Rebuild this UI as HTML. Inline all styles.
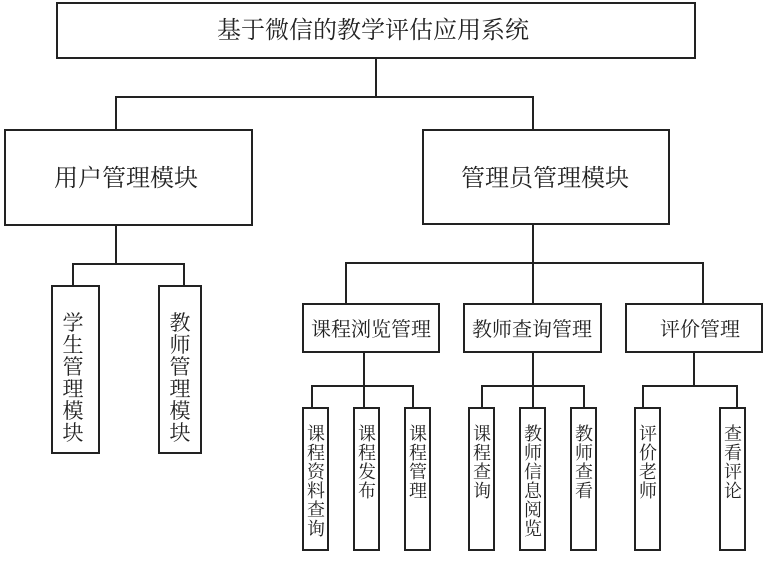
<!DOCTYPE html>
<html><head><meta charset="utf-8"><style>
body{margin:0;background:#fff;}
svg text{font-family:"Liberation Serif","Noto Serif CJK SC","Noto Sans CJK SC",serif;fill:#222;}
</style></head><body>
<svg width="767" height="556" viewBox="0 0 767 556" xmlns="http://www.w3.org/2000/svg">
<g fill="none" stroke="#222" stroke-width="2">
<rect x="57" y="3" width="638" height="55"/>
<rect x="5" y="130" width="247" height="95"/>
<rect x="423" y="130" width="246" height="94"/>
<rect x="52" y="286" width="47" height="167"/>
<rect x="159" y="286" width="42" height="167"/>
<rect x="303" y="304" width="136" height="48"/>
<rect x="464" y="304" width="137" height="48"/>
<rect x="626" y="304" width="136" height="48"/>
<rect x="303" y="408" width="25" height="142"/>
<rect x="354" y="408" width="25" height="142"/>
<rect x="405" y="408" width="25" height="142"/>
<rect x="469" y="408" width="25" height="142"/>
<rect x="520" y="408" width="25" height="142"/>
<rect x="571" y="408" width="25" height="142"/>
<rect x="635" y="408" width="25" height="142"/>
<rect x="720" y="408" width="25" height="142"/>
<polyline points="116,130 116,97 533,97 533,130"/>
<line x1="376" y1="58" x2="376" y2="97"/>
<polyline points="116,225 116,264"/>
<polyline points="73,286 73,264 184,264 184,286"/>
<line x1="533" y1="224" x2="533" y2="304"/>
<polyline points="346,304 346,263 703,263 703,304"/>
<line x1="364" y1="352" x2="364" y2="408"/>
<polyline points="312,408 312,386 413,386 413,408"/>
<line x1="533" y1="352" x2="533" y2="408"/>
<polyline points="482,408 482,386 584,386 584,408"/>
<line x1="694" y1="352" x2="694" y2="386"/>
<polyline points="643,408 643,386 737,386 737,408"/>
</g>
<text x="373" y="38" font-size="24" text-anchor="middle">基于微信的教学评估应用系统</text>
<text x="126" y="186" font-size="24" text-anchor="middle">用户管理模块</text>
<text x="545" y="186" font-size="24" text-anchor="middle">管理员管理模块</text>
<text x="371" y="336" font-size="20" text-anchor="middle">课程浏览管理</text>
<text x="532" y="336" font-size="20" text-anchor="middle">教师查询管理</text>
<text x="700" y="336" font-size="20" text-anchor="middle">评价管理</text>
<g font-size="21" text-anchor="middle">
<text><tspan x="73" y="330">学</tspan><tspan x="73" dy="22">生</tspan><tspan x="73" dy="22">管</tspan><tspan x="73" dy="22">理</tspan><tspan x="73" dy="22">模</tspan><tspan x="73" dy="22">块</tspan></text>
<text><tspan x="180" y="330">教</tspan><tspan x="180" dy="22">师</tspan><tspan x="180" dy="22">管</tspan><tspan x="180" dy="22">理</tspan><tspan x="180" dy="22">模</tspan><tspan x="180" dy="22">块</tspan></text>
</g>
<g font-size="18" text-anchor="middle">
<text><tspan x="316" y="440">课</tspan><tspan x="316" dy="19">程</tspan><tspan x="316" dy="19">资</tspan><tspan x="316" dy="19">料</tspan><tspan x="316" dy="19">查</tspan><tspan x="316" dy="19">询</tspan></text>
<text><tspan x="367" y="440">课</tspan><tspan x="367" dy="19">程</tspan><tspan x="367" dy="19">发</tspan><tspan x="367" dy="19">布</tspan></text>
<text><tspan x="418" y="440">课</tspan><tspan x="418" dy="19">程</tspan><tspan x="418" dy="19">管</tspan><tspan x="418" dy="19">理</tspan></text>
<text><tspan x="482" y="440">课</tspan><tspan x="482" dy="19">程</tspan><tspan x="482" dy="19">查</tspan><tspan x="482" dy="19">询</tspan></text>
<text><tspan x="533" y="440">教</tspan><tspan x="533" dy="19">师</tspan><tspan x="533" dy="19">信</tspan><tspan x="533" dy="19">息</tspan><tspan x="533" dy="19">阅</tspan><tspan x="533" dy="19">览</tspan></text>
<text><tspan x="584" y="440">教</tspan><tspan x="584" dy="19">师</tspan><tspan x="584" dy="19">查</tspan><tspan x="584" dy="19">看</tspan></text>
<text><tspan x="648" y="440">评</tspan><tspan x="648" dy="19">价</tspan><tspan x="648" dy="19">老</tspan><tspan x="648" dy="19">师</tspan></text>
<text><tspan x="733" y="440">查</tspan><tspan x="733" dy="19">看</tspan><tspan x="733" dy="19">评</tspan><tspan x="733" dy="19">论</tspan></text>
</g>
</svg>
</body></html>
